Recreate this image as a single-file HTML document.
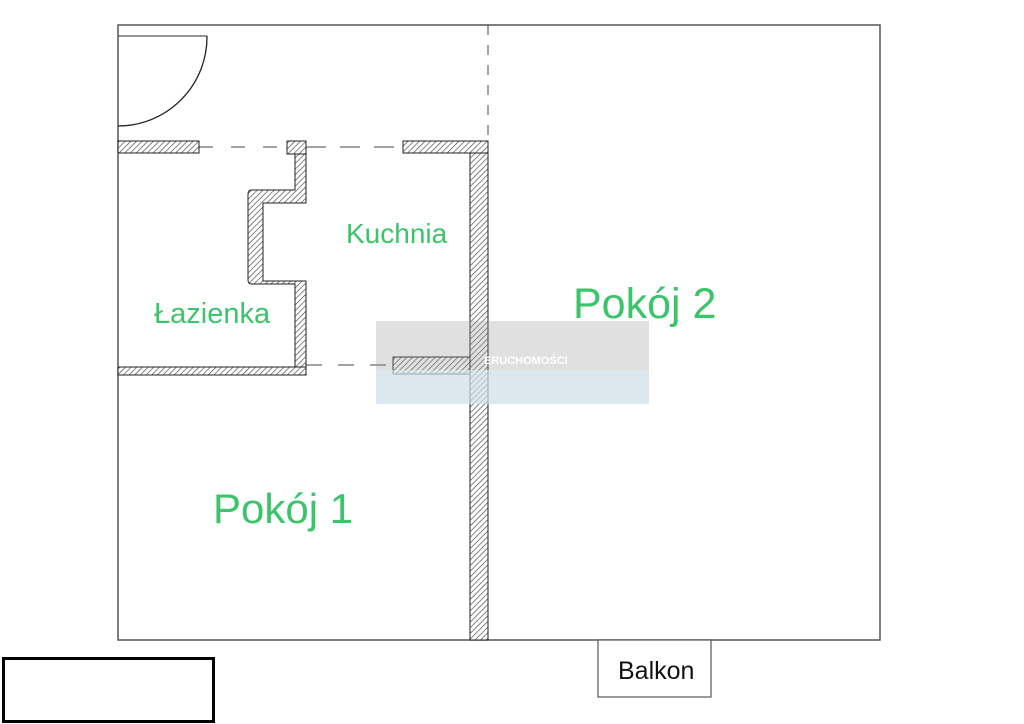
<!DOCTYPE html>
<html><head><meta charset="utf-8"><style>
body{margin:0;background:#fff;width:1024px;height:724px;overflow:hidden}
svg{display:block}
.g{font-family:"Liberation Sans",sans-serif;fill:#3cc46a}
</style></head><body>
<svg width="1024" height="724" viewBox="0 0 1024 724">
<defs>
<pattern id="h" width="4" height="4" patternUnits="userSpaceOnUse" patternTransform="rotate(45)">
<rect width="4" height="4" fill="#fff"/><line x1="0" y1="0" x2="0" y2="4" stroke="#444" stroke-width="1.3"/>
</pattern>
</defs>
<rect x="118" y="25" width="762" height="615" fill="none" stroke="#555" stroke-width="1.5"/>
<line x1="118" y1="36" x2="207" y2="36" stroke="#555" stroke-width="1.2"/>
<path d="M207 36 A89 89 0 0 1 118 126" fill="none" stroke="#222" stroke-width="1.3"/>
<line x1="488" y1="25" x2="488" y2="140" stroke="#444" stroke-dasharray="10 10"/>
<line x1="199" y1="147" x2="287" y2="147" stroke="#444" stroke-dasharray="14 18"/>
<line x1="306" y1="147" x2="403" y2="147" stroke="#444" stroke-dasharray="20 14"/>
<line x1="306" y1="365" x2="393" y2="365" stroke="#444" stroke-dasharray="16 16"/>
<g fill="url(#h)" stroke="#222" stroke-width="1">
<rect x="118" y="141" width="81" height="12"/>
<rect x="287" y="141" width="19" height="13"/>
<rect x="403" y="141" width="85" height="12"/>
<rect x="470" y="153" width="18" height="487"/>
<path d="M295 154 H306 V203 H263 V281 H306 V375 H295 V284 H252 Q248 284 248 280 V194 Q248 190 252 190 H295 Z"/>
<rect x="118" y="367" width="188" height="8"/>
<rect x="393" y="357" width="77" height="17"/>
</g>
<rect x="376" y="321" width="273" height="83" fill="#999" opacity="0.3"/>
<rect x="376" y="370" width="273" height="34" fill="#d8edf5" opacity="0.6"/>
<text x="484" y="364" font-family="Liberation Sans,sans-serif" font-size="11" font-weight="bold" fill="#fff">ERUCHOMOŚCI</text>
<text class="g" x="346" y="243" font-size="28">Kuchnia</text>
<text class="g" x="154" y="323" font-size="29">Łazienka</text>
<text class="g" x="573" y="318" font-size="43">Pokój 2</text>
<text class="g" x="213" y="523" font-size="42">Pokój 1</text>
<rect x="598" y="640" width="113" height="57" fill="#fff" stroke="#555" stroke-width="1.2"/>
<text x="618" y="679" font-family="Liberation Sans,sans-serif" font-size="25" fill="#111">Balkon</text>
<rect x="3.5" y="658.5" width="210" height="63" fill="none" stroke="#000" stroke-width="3"/>
</svg>
</body></html>
